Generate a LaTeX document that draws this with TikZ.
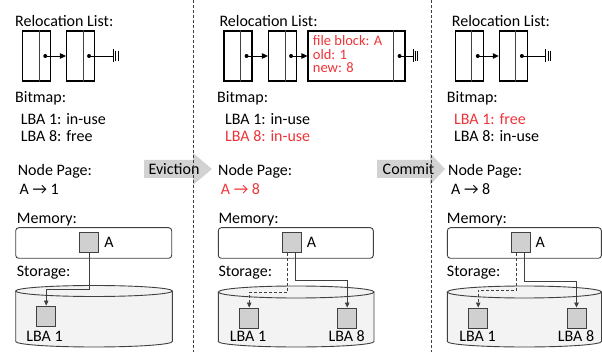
\documentclass[tikz,border=0pt]{standalone}
\usepackage{fontspec}
\setmainfont{Carlito}
\usepackage{xcolor}
\usetikzlibrary{arrows.meta,positioning}
\definecolor{hot}{RGB}{238,52,56}
\definecolor{edge}{RGB}{64,64,64}
\definecolor{blkfill}{RGB}{208,208,208}
\definecolor{diskfill}{RGB}{243,243,243}
\definecolor{stepfill}{RGB}{210,210,210}

\begin{document}
\begin{tikzpicture}[x=1pt,y=-1pt,
  lbl/.style={anchor=base west,inner sep=0pt,font=\fontsize{16}{16}\selectfont},
  cell/.style={draw,line width=1.1pt,minimum width=28pt,minimum height=50pt,inner sep=0pt},
  blk/.style={draw=edge,fill=blkfill,line width=0.9pt,minimum width=19pt,minimum height=20pt,inner sep=0pt},
  mem/.style={draw=edge,rounded corners=3pt,line width=0.9pt,minimum height=30.6pt,inner sep=0pt},
  disk/.style={draw=edge,fill=diskfill,line width=0.9pt},
  link/.style={line width=0.8pt,-{Triangle[length=6pt,width=5.5pt]}},
  wire/.style={draw=edge,line width=0.8pt,-{Triangle[length=5pt,width=4.5pt]}},
  dot/.style={circle,fill,inner sep=0pt,minimum size=4pt},
  sep/.style={draw=edge,line width=0.9pt,dash pattern=on 3pt off 2pt}]
\useasboundingbox (0,0) rectangle (602,352);

\node[lbl] (rl1) at (15,27) {Relocation List:};
\node[lbl] (rl2) at (219.3,27) {Relocation List:};
\node[lbl] (rl3) at (451.7,27) {Relocation List:};

\node[cell] (c11) at (36.7,56) {};
\node[cell] (c12) at (80.5,56) {};
\node[cell] (c21) at (238,56) {};
\node[cell] (c22) at (282.5,56) {};
\node[cell,minimum width=97pt] (c23) at (356.5,56) {};
\node[cell] (c31) at (469.2,56) {};
\node[cell] (c32) at (513.3,56) {};
\foreach \c in {c11,c12,c21,c22,c23,c31,c32} {
  \draw[edge,line width=1.1pt] ([xshift=-12pt]\c.north east) -- ([xshift=-12pt]\c.south east);
  \node[dot] (\c d) at ([xshift=-6pt]\c.east) {};
}
\draw[link] (c11d.center) -- (c12.west);
\draw[link] (c21d.center) -- (c22.west);
\draw[link] (c22d.center) -- (c23.west);
\draw[link] (c31d.center) -- (c32.west);

\coordinate (g1) at (113.3,56);
\coordinate (g2) at (413,56);
\coordinate (g3) at (545.7,56);
\draw[line width=0.8pt] (c12d.center) -- (g1);
\draw[line width=0.8pt] (c23d.center) -- (g2);
\draw[line width=0.8pt] (c32d.center) -- (g3);
\foreach \g in {g1,g2,g3} {
  \draw[line width=0.7pt] (\g) ++(0,-6.5) -- ++(0,13);
  \draw[line width=0.7pt] (\g) ++(2.4,-5) -- ++(0,10);
  \draw[line width=0.7pt] (\g) ++(4.8,-5) -- ++(0,10);
}

\node[lbl,text=hot,font=\fontsize{14.5}{14.5}\selectfont] (fb) at (312.7,45.5) {file block: A};
\node[lbl,text=hot,font=\fontsize{14.5}{14.5}\selectfont] (old) at (312.7,59.3) {old: 1};
\node[lbl,text=hot,font=\fontsize{14.5}{14.5}\selectfont] (new) at (312.7,73) {new: 8};

\node[lbl] (bm1) at (15,102.7) {Bitmap:};
\node[lbl] (b11) at (20.7,124.3) {LBA 1: in-use};
\node[lbl] (b18) at (20.7,141.7) {LBA 8: free};
\node[lbl] (bm2) at (217,102.7) {Bitmap:};
\node[lbl] (b21) at (225,124.3) {LBA 1: in-use};
\node[lbl,text=hot] (b28) at (225,141.7) {LBA 8: in-use};
\node[lbl] (bm3) at (446.7,102.7) {Bitmap:};
\node[lbl,text=hot] (b31) at (454,124.3) {LBA 1: free};
\node[lbl] (b38) at (454,141.7) {LBA 8: in-use};

\fill[stepfill] (144,160) -- (193,160) -- (193,153) -- (212,169) -- (193,185) -- (193,178) -- (144,178) -- cycle;
\node[lbl,anchor=base] (ev) at (174,175) {Eviction};
\fill[stepfill] (377,160) -- (430,160) -- (430,153) -- (445,169) -- (430,185) -- (430,178) -- (377,178) -- cycle;
\node[lbl,anchor=base] (cm) at (408.5,175) {Commit};

\node[lbl] (np1) at (17.7,175.7) {Node Page:};
\node[lbl] (pp1) at (19.5,195) {A → 1};
\node[lbl] (np2) at (218,175.7) {Node Page:};
\node[lbl,text=hot] (pp2) at (220.7,195) {A → 8};
\node[lbl] (np3) at (448,175.7) {Node Page:};
\node[lbl] (pp3) at (451,195) {A → 8};

\node[lbl] (me1) at (16.7,224) {Memory:};
\node[lbl] (me2) at (218.3,224) {Memory:};
\node[lbl] (me3) at (446.7,224) {Memory:};
\node[mem,minimum width=156pt] (r1) at (93.7,243) {};
\node[mem,minimum width=155pt] (r2) at (295.8,243) {};
\node[mem,minimum width=154pt] (r3) at (524.4,243) {};
\node[blk] (m1) at (89.2,242.5) {};
\node[blk] (m2) at (291.7,242.5) {};
\node[blk] (m3) at (520.5,242.5) {};
\node[lbl,anchor=west,right=5pt of m1] (a1) {A};
\node[lbl,anchor=west,right=5pt of m2] (a2) {A};
\node[lbl,anchor=west,right=5pt of m3] (a3) {A};

\node[lbl] (st1) at (16.7,276.7) {Storage:};
\node[lbl] (st2) at (218.3,276.7) {Storage:};
\node[lbl] (st3) at (446.7,276.7) {Storage:};
\draw[disk] (15.7,291) -- (15.7,341.5) arc[start angle=180,end angle=0,x radius=78.3,y radius=5.5] -- (172.3,291);
\draw[disk] (94,291) ellipse [x radius=78.3,y radius=5.5];
\draw[disk] (218.3,292) -- (218.3,341.5) arc[start angle=180,end angle=0,x radius=77.85,y radius=5.5] -- (374,292);
\draw[disk] (296.15,292) ellipse [x radius=77.85,y radius=6];
\draw[disk] (447.3,292) -- (447.3,341.5) arc[start angle=180,end angle=0,x radius=77.1,y radius=5.5] -- (601.5,292);
\draw[disk] (524.4,292) ellipse [x radius=77.1,y radius=6];

\node[blk] (s11) at (46.2,316) {};
\node[blk] (s21) at (249.2,318) {};
\node[blk] (s28) at (347.2,318) {};
\node[blk] (s31) at (478.2,318) {};
\node[blk] (s38) at (576.5,318) {};
\node[lbl,anchor=base] (l11) at (44.5,341.7) {LBA 1};
\node[lbl,anchor=base] (l21) at (248,341.7) {LBA 1};
\node[lbl,anchor=base] (l28) at (346.7,341.7) {LBA 8};
\node[lbl,anchor=base] (l31) at (477.5,341.7) {LBA 1};
\node[lbl,anchor=base] (l38) at (576,341.7) {LBA 8};

\draw[wire] (m1.south) -- ++(0,36.6) -| (s11.north);
\draw[wire,dash pattern=on 3pt off 2pt] ([xshift=-4.4pt]m2.south) -- ++(0,39.2) -| (s21.north);
\draw[wire] ([xshift=4pt]m2.south) -- ++(0,27.5) -| (s28.north);
\draw[wire,dash pattern=on 3pt off 2pt] ([xshift=-3.8pt]m3.south) -- ++(0,37.5) -| (s31.north);
\draw[wire] ([xshift=4pt]m3.south) -- ++(0,28.5) -| (s38.north);

\draw[sep] (193,0) -- (193,352);
\draw[sep] (431,0) -- (431,352);
\end{tikzpicture}
\end{document}
